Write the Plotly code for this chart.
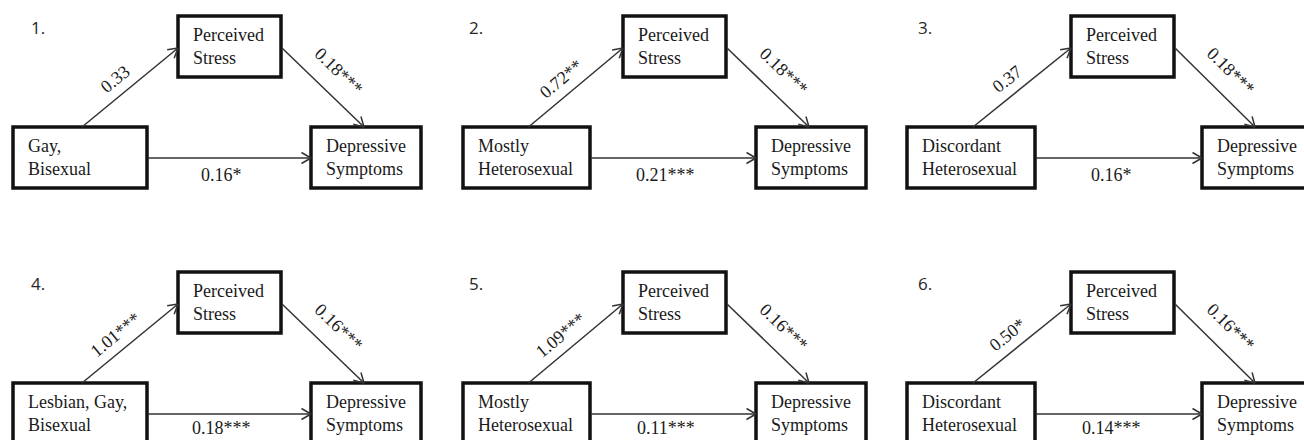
import numpy as np
import plotly.graph_objects as go

# ---------------- data ----------------
panel_numbers = ["1.", "2.", "3.", "4.", "5.", "6."]
predictors = ["Gay,<br>Bisexual", "Mostly<br>Heterosexual", "Discordant<br>Heterosexual",
              "Lesbian, Gay,<br>Bisexual", "Mostly<br>Heterosexual", "Discordant<br>Heterosexual"]
mediator = "Perceived<br>Stress"
outcome = "Depressive<br>Symptoms"
a_coef = [0.33, 0.72, 0.37, 1.01, 1.09, 0.50]
a_stars = ["", "**", "", "***", "***", "*"]
b_coef = [0.18, 0.18, 0.18, 0.16, 0.16, 0.16]
b_stars = ["***", "***", "***", "***", "***", "***"]
c_coef = [0.16, 0.21, 0.16, 0.18, 0.11, 0.14]
c_stars = ["*", "***", "*", "***", "***", "***"]

# ---------------- layout geometry (pixel space) ----------------
W, H = 1304, 440
col_num_x = [29, 467, 916]
col_left_box = [(13, 147), (463, 590), (907, 1035)]
col_ps_x = [178, 623, 1071]
col_dep_x = [311, 756, 1202]
row_dy = [0, 256]
row_c_label_dy = [17, 14]
PS_W, DEP_W = 103, 110
TOP_Y = (16, 77)
BOT_Y = (127, 188)
A_END_Y = 48
C_Y = 158

BOX_COLOR = "#111111"
LINE_COLOR = "#333333"
TEXT_COLOR = "#1a1a1a"
SERIF = "Liberation Serif, Times New Roman, serif"

shapes = []
annotations = []


def fmt(v, s):
    return f"{v:.2f}{s}"


def arrow(x0, y0, x1, y1):
    shapes.append(dict(type="line", xref="x", yref="y", x0=x0, y0=y0, x1=x1, y1=y1,
                       line=dict(color=LINE_COLOR, width=1.5), layer="above"))
    ang = np.arctan2(y1 - y0, x1 - x0)
    L, half = 11, np.deg2rad(30)
    for s in (-1, 1):
        a = ang + np.pi + s * half
        shapes.append(dict(type="line", xref="x", yref="y", x0=x1, y0=y1,
                           x1=x1 + L * np.cos(a), y1=y1 + L * np.sin(a),
                           line=dict(color=LINE_COLOR, width=1.5), layer="above"))
    return np.degrees(ang)


def box(x0, x1, y0, y1, text):
    shapes.append(dict(type="rect", xref="x", yref="y", x0=x0, x1=x1, y0=y0, y1=y1,
                       line=dict(color=BOX_COLOR, width=3.5), fillcolor="white", layer="below"))
    annotations.append(dict(x=x0 + 13, y=(y0 + y1) / 2, xref="x", yref="y", text=text,
                            showarrow=False, xanchor="left", yanchor="middle", align="left",
                            font=dict(family=SERIF, size=18, color=TEXT_COLOR)))


def label(x, y, text, angle):
    annotations.append(dict(x=x, y=y, xref="x", yref="y", text=text, showarrow=False,
                            xanchor="center", yanchor="middle", textangle=angle,
                            font=dict(family=SERIF, size=18, color=TEXT_COLOR)))


for i in range(6):
    col, row = i % 3, i // 3
    dy = row_dy[row]
    lx0, lx1 = col_left_box[col]
    px0 = col_ps_x[col]
    px1 = px0 + PS_W
    dx0 = col_dep_x[col]
    dx1 = dx0 + DEP_W
    ty0, ty1 = TOP_Y[0] + dy, TOP_Y[1] + dy
    by0, by1 = BOT_Y[0] + dy, BOT_Y[1] + dy

    # panel number
    annotations.append(dict(x=col_num_x[col], y=27 + dy, xref="x", yref="y", text=panel_numbers[i],
                            showarrow=False, xanchor="left", yanchor="middle",
                            font=dict(family="Open Sans, sans-serif", size=17, color="#262626")))

    box(lx0, lx1, by0, by1, predictors[i])
    box(px0, px1, ty0, ty1, mediator)
    box(dx0, dx1, by0, by1, outcome)

    # a path
    ax0, ay0 = (lx0 + lx1) / 2 + 2, by0
    ax1, ay1 = px0, A_END_Y + dy
    ang_a = arrow(ax0, ay0, ax1, ay1)
    label((ax0 + ax1) / 2 - 15, (ay0 + ay1) / 2 - 9, fmt(a_coef[i], a_stars[i]), ang_a)

    # b path
    bx0, by_0 = px1 + 1, A_END_Y + dy
    bx1, by_1 = dx0 + 53, by0
    ang_b = arrow(bx0, by_0, bx1, by_1)
    label((bx0 + bx1) / 2 + 16, (by_0 + by_1) / 2 - 17, fmt(b_coef[i], b_stars[i]), ang_b)

    # c' path
    cx0, cx1 = lx1 + 1, dx0
    arrow(cx0, C_Y + dy, cx1, C_Y + dy)
    label((cx0 + cx1) / 2 - 8, C_Y + dy + row_c_label_dy[row], fmt(c_coef[i], c_stars[i]), 0)

fig = go.Figure()
fig.update_layout(
    width=W, height=H,
    margin=dict(l=0, r=0, t=0, b=0),
    paper_bgcolor="white", plot_bgcolor="white",
    xaxis=dict(range=[0, W], visible=False, fixedrange=True),
    yaxis=dict(range=[H, 0], visible=False, fixedrange=True),
    shapes=shapes, annotations=annotations, showlegend=False,
)
fig.write_html("out.html", post_script="document.body.style.margin='0';",
               config={"displayModeBar": False, "staticPlot": True})
